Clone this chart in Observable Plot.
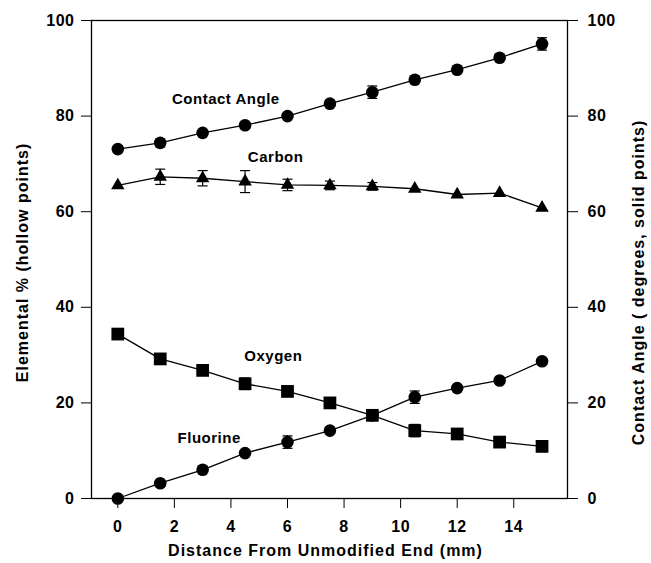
<!DOCTYPE html>
<html>
<head>
<meta charset="utf-8">
<script src="https://cdn.jsdelivr.net/npm/d3@7"></script>
<script src="https://cdn.jsdelivr.net/npm/@observablehq/plot@0.6"></script>
<style>
  html, body { margin: 0; padding: 0; background: #fff; }
  #chart svg { display: block; }
  #chart svg text { letter-spacing: 0.5px; }
</style>
</head>
<body>
<div id="chart"></div>
<script>
// Distance from unmodified end (mm)
const distance = [0, 1.5, 3, 4.5, 6, 7.5, 9, 10.5, 12, 13.5, 15];
// Contact angle (degrees, solid circles, right axis)
const contactAngle = [73.1, 74.4, 76.5, 78.1, 80.0, 82.6, 85.0, 87.6, 89.7, 92.2, 95.1];
const contactErr   = [0.7, 0.8, 0, 0, 0, 0, 1.3, 0, 0, 0, 1.3];
// Elemental % (left axis)
const carbon      = [65.5, 67.3, 67.0, 66.3, 65.6, 65.5, 65.3, 64.8, 63.6, 63.9, 60.8];
const carbonErr   = [0, 1.6, 1.6, 2.3, 1.2, 0.9, 0.8, 0, 0, 0, 0];
const oxygen      = [34.4, 29.2, 26.8, 24.0, 22.4, 20.0, 17.4, 14.2, 13.5, 11.8, 10.9];
const oxygenErr   = [0, 0.6, 0, 1.2, 0, 0, 0, 1.3, 0, 0, 0];
const fluorine    = [0, 3.2, 6.0, 9.5, 11.8, 14.2, 17.4, 21.2, 23.1, 24.7, 28.7];
const fluorineErr = [0, 0, 0, 0, 1.3, 0, 0, 1.3, 0, 0, 0];

// Series annotation labels (in data coordinates)
const labelNames = ["Contact Angle", "Carbon", "Oxygen", "Fluorine"];
const labelX = [3.82, 5.58, 5.5, 3.23];
const labelY = [83.5, 71.3, 29.7, 12.6];

// Tick labels
const xTicks = [0, 2, 4, 6, 8, 10, 12, 14];
const yTicks = [0, 20, 40, 60, 80, 100];
const xTitle = "Distance From Unmodified End (mm)";
const yLeftTitle = "Elemental % (hollow points)";
const yRightTitle = "Contact Angle ( degrees, solid points)";

const series = [
  {name: "Contact Angle", values: contactAngle, err: contactErr, symbol: "circle", r: 6.3},
  {name: "Carbon", values: carbon, err: carbonErr, symbol: "triangle", r: 5},
  {name: "Oxygen", values: oxygen, err: oxygenErr, symbol: "square", r: 7.2},
  {name: "Fluorine", values: fluorine, err: fluorineErr, symbol: "circle", r: 6.3}
];

const cap = {
  draw(context) {
    context.moveTo(-5, 0);
    context.lineTo(5, 0);
  }
};

const marks = [];
for (const s of series) {
  const rows = distance.map((x, i) => ({x, y: s.values[i], e: s.err[i]}));
  const errRows = rows.filter(d => d.e > 0);
  marks.push(Plot.ruleX(errRows, {x: "x", y1: d => d.y - d.e, y2: d => d.y + d.e, stroke: "black", strokeWidth: 1.2}));
  marks.push(Plot.dot(errRows, {x: "x", y: d => d.y - d.e, symbol: cap, stroke: "black", strokeWidth: 1.2, fill: "none"}));
  marks.push(Plot.dot(errRows, {x: "x", y: d => d.y + d.e, symbol: cap, stroke: "black", strokeWidth: 1.2, fill: "none"}));
  marks.push(Plot.line(rows, {x: "x", y: "y", stroke: "black", strokeWidth: 1.3}));
  marks.push(Plot.dot(rows, {x: "x", y: "y", symbol: s.symbol, r: s.r, fill: "black", stroke: "none"}));
}

const labels = labelNames.map((t, i) => ({t, x: labelX[i], y: labelY[i]}));

const titleStyle = {fontSize: 16, fontWeight: "bold", textAnchor: "middle", lineAnchor: "middle"};

const chart = Plot.plot({
  width: 651,
  height: 563,
  marginLeft: 91,
  marginRight: 84,
  marginTop: 20,
  marginBottom: 65,
  style: {fontFamily: "'Liberation Sans', Arial, Helvetica, sans-serif", fontSize: "16px", color: "black", background: "white"},
  x: {domain: [-0.93, 15.9]},
  y: {domain: [0, 100]},
  marks: [
    Plot.frame({stroke: "black", strokeWidth: 1.3}),
    Plot.axisY({anchor: "left", ticks: yTicks, tickSize: 10, tickPadding: 7, label: null, fontSize: 16, fontWeight: "bold"}),
    Plot.axisY({anchor: "right", ticks: yTicks, tickSize: 10, tickPadding: 10, label: null, fontSize: 16, fontWeight: "bold"}),
    Plot.axisX({anchor: "bottom", ticks: xTicks, tickSize: 10, tickPadding: 12, label: null, fontSize: 16, fontWeight: "bold"}),
    ...marks,
    Plot.text(labels, {x: "x", y: "y", text: "t", fontSize: 15, fontWeight: "bold"}),
    Plot.text([xTitle], {frameAnchor: "bottom", dx: -4, dy: 52, ...titleStyle}),
    Plot.text([yLeftTitle], {frameAnchor: "left", dx: -69, dy: 3, rotate: -90, ...titleStyle}),
    Plot.text([yRightTitle], {frameAnchor: "right", dx: 71, dy: 23, rotate: -90, ...titleStyle})
  ]
});
document.getElementById("chart").appendChild(chart);

// Titles in the reference are more widely tracked
const titles = new Set([xTitle, yLeftTitle, yRightTitle]);
d3.select(chart).selectAll("text").each(function () {
  if (titles.has(this.textContent)) this.style.letterSpacing = "1px";
});
</script>
</body>
</html>
